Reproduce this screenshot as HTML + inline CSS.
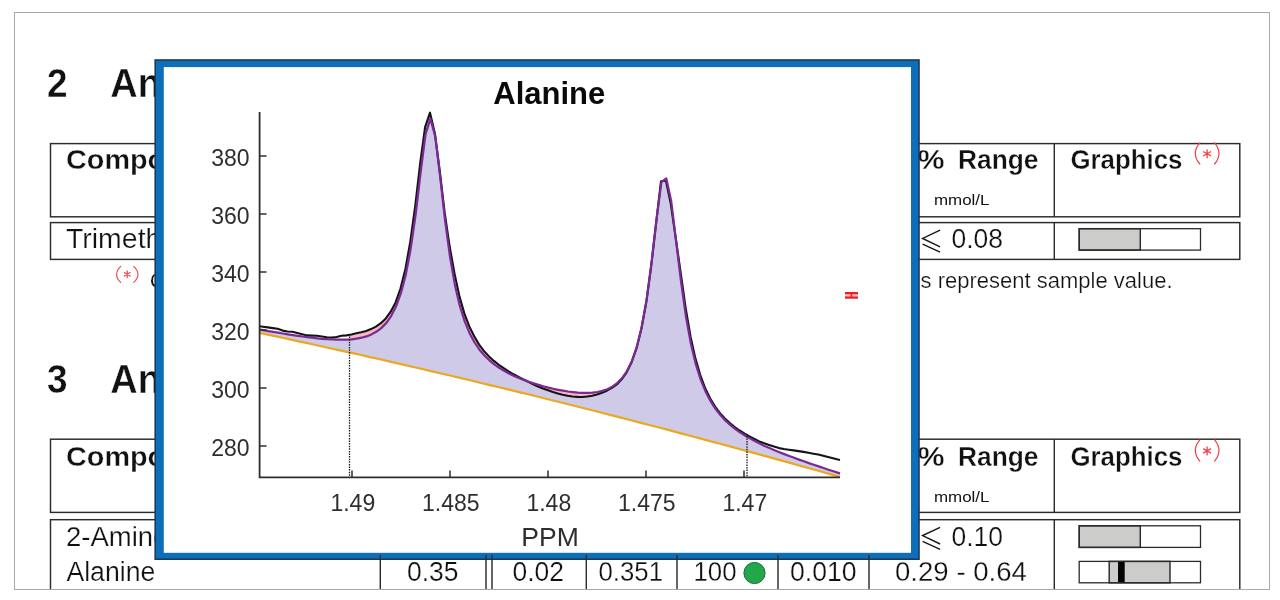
<!DOCTYPE html>
<html><head><meta charset="utf-8"><title>Alanine</title>
<style>
html,body{margin:0;padding:0;background:#fff;}
body{width:1280px;height:600px;overflow:hidden;font-family:"Liberation Sans",sans-serif;}
svg{display:block;filter:blur(0.3px);}
svg text{font-family:"Liberation Sans",sans-serif;}
</style></head><body>
<svg width="1280" height="600" viewBox="0 0 1280 600" fill="#111">
<rect width="1280" height="600" fill="#fff"/>
<g id="doc" stroke="#fff" stroke-width="0" >
<rect x="14.5" y="12.5" width="1255" height="577" fill="#fff" stroke="#a9a9a9" stroke-width="1"/>
<text transform="translate(46.90 97.40) scale(0.9300 1)" font-size="39.8" font-weight="bold" stroke="#fff" stroke-width="0.4" paint-order="fill stroke">2</text>
<text transform="translate(110.20 97.40) scale(0.9550 1)" font-size="39.8" font-weight="bold" stroke="#fff" stroke-width="0.4" paint-order="fill stroke">Analysis</text>
<text transform="translate(46.90 393.10) scale(0.9300 1)" font-size="39.8" font-weight="bold" stroke="#fff" stroke-width="0.4" paint-order="fill stroke">3</text>
<text transform="translate(110.20 393.10) scale(0.9550 1)" font-size="39.8" font-weight="bold" stroke="#fff" stroke-width="0.4" paint-order="fill stroke">Analysis</text>
<rect x="50.5" y="143.6" width="1189.3" height="73.20000000000002" fill="none" stroke="#2b2b2b" stroke-width="1.45"/>
<line x1="1054.3" y1="143.6" x2="1054.3" y2="216.8" stroke="#2b2b2b" stroke-width="1.45"/>
<rect x="50.5" y="222.6" width="1189.3" height="36.79999999999998" fill="none" stroke="#2b2b2b" stroke-width="1.45"/>
<line x1="1054.3" y1="222.6" x2="1054.3" y2="259.4" stroke="#2b2b2b" stroke-width="1.45"/>
<text transform="translate(66.00 168.80) scale(1.0142 1)" font-size="28.4" font-weight="bold" stroke="#fff" stroke-width="0.35" paint-order="fill stroke">Component</text>
<text transform="translate(958.00 168.80) scale(0.9275 1)" font-size="28.4" font-weight="bold" stroke="#fff" stroke-width="0.35" paint-order="fill stroke">Range</text>
<text transform="translate(917.50 168.80) scale(1.0692 1)" font-size="28.4" font-weight="bold" stroke="#fff" stroke-width="0.35" paint-order="fill stroke">%</text>
<text transform="translate(934.00 205.00) scale(1.1675 1)" font-size="14.5">mmol/L</text>
<text transform="translate(1070.50 168.80) scale(0.9097 1)" font-size="28.4" font-weight="bold" stroke="#fff" stroke-width="0.35" paint-order="fill stroke">Graphics</text>
<path d="M1199.8 142.8 Q1190.8 153.4 1199.8 164.0" fill="none" stroke="#f4404a" stroke-width="1.2" stroke-linecap="round"/><path d="M1214.6 142.8 Q1223.4 153.4 1214.6 164.0" fill="none" stroke="#f4404a" stroke-width="1.2" stroke-linecap="round"/><path d="M1207.1 149.8 L1207.1 157.8 M1203.6 151.8 L1210.6 155.8 M1210.6 151.8 L1203.6 155.8" fill="none" stroke="#f4404a" stroke-width="1.3" stroke-linecap="round"/>
<text transform="translate(66.00 248.40) scale(1.0350 1)" font-size="27.5" stroke="#fff" stroke-width="0.25" paint-order="fill stroke">Trimethylamine</text>
<path d="M940.1 230.2 L922.6 238.4 L940.1 246.8 M922.6 244.2 L940.1 252.2" fill="none" stroke="#1c1616" stroke-width="1.45" stroke-linejoin="miter"/>
<text transform="translate(951.50 248.40) scale(0.9800 1)" font-size="27" stroke="#fff" stroke-width="0.25" paint-order="fill stroke">0.08</text>
<rect x="1079.2" y="228.7" width="121.29999999999995" height="21.400000000000006" fill="#fff"/><rect x="1079.2" y="228.7" width="61.09999999999991" height="21.400000000000006" fill="#cccccb" stroke="#2b2b2b" stroke-width="1.45"/><rect x="1079.2" y="228.7" width="121.29999999999995" height="21.400000000000006" fill="none" stroke="#2b2b2b" stroke-width="1.3"/>
<path d="M120.7 266.4 Q112.5 274.4 120.7 282.3" fill="none" stroke="#f4404a" stroke-width="1.1" stroke-linecap="round"/><path d="M133.7 266.4 Q142.3 274.4 133.7 282.3" fill="none" stroke="#f4404a" stroke-width="1.1" stroke-linecap="round"/><path d="M127.2 270.9 L127.2 277.7 M124.3 272.6 L130.1 276.0 M130.1 272.6 L124.3 276.0" fill="none" stroke="#f4404a" stroke-width="1.2000000000000002" stroke-linecap="round"/>
<text transform="translate(149.80 287.60) scale(1.0000 1)" font-size="22.5" stroke="#fff" stroke-width="0.25" paint-order="fill stroke">Gray boxes</text>
<text transform="translate(920.60 287.60) scale(0.9781 1)" font-size="22.5" stroke="#fff" stroke-width="0.25" paint-order="fill stroke">s represent sample value.</text>
<rect x="50.5" y="439.20000000000005" width="1189.3" height="73.20000000000005" fill="none" stroke="#2b2b2b" stroke-width="1.45"/>
<line x1="1054.3" y1="439.20000000000005" x2="1054.3" y2="512.4000000000001" stroke="#2b2b2b" stroke-width="1.45"/>
<rect x="50.5" y="519.7" width="1189.3" height="80.29999999999995" fill="none" stroke="#2b2b2b" stroke-width="1.45"/>
<line x1="1054.3" y1="519.7" x2="1054.3" y2="600" stroke="#2b2b2b" stroke-width="1.45"/>
<text transform="translate(66.00 465.90) scale(1.0142 1)" font-size="28.4" font-weight="bold" stroke="#fff" stroke-width="0.35" paint-order="fill stroke">Component</text>
<text transform="translate(958.00 465.90) scale(0.9275 1)" font-size="28.4" font-weight="bold" stroke="#fff" stroke-width="0.35" paint-order="fill stroke">Range</text>
<text transform="translate(917.50 465.90) scale(1.0692 1)" font-size="28.4" font-weight="bold" stroke="#fff" stroke-width="0.35" paint-order="fill stroke">%</text>
<text transform="translate(934.00 502.10) scale(1.1675 1)" font-size="14.5">mmol/L</text>
<text transform="translate(1070.50 465.90) scale(0.9097 1)" font-size="28.4" font-weight="bold" stroke="#fff" stroke-width="0.35" paint-order="fill stroke">Graphics</text>
<path d="M1199.8 439.90000000000003 Q1190.8 450.5 1199.8 461.1" fill="none" stroke="#f4404a" stroke-width="1.2" stroke-linecap="round"/><path d="M1214.6 439.90000000000003 Q1223.4 450.5 1214.6 461.1" fill="none" stroke="#f4404a" stroke-width="1.2" stroke-linecap="round"/><path d="M1207.1 446.9 L1207.1 454.9 M1203.6 448.9 L1210.6 452.9 M1210.6 448.9 L1203.6 452.9" fill="none" stroke="#f4404a" stroke-width="1.3" stroke-linecap="round"/>
<text transform="translate(66.00 545.60) scale(1.0000 1)" font-size="27.5" stroke="#fff" stroke-width="0.25" paint-order="fill stroke">2-Aminobutyrate</text>
<text transform="translate(66.40 580.50) scale(0.9701 1)" font-size="27.5" stroke="#fff" stroke-width="0.25" paint-order="fill stroke">Alanine</text>
<path d="M940.1 527.4 L922.6 535.6 L940.1 544.0 M922.6 541.4 L940.1 549.4" fill="none" stroke="#1c1616" stroke-width="1.45" stroke-linejoin="miter"/>
<text transform="translate(951.50 545.60) scale(0.9800 1)" font-size="27" stroke="#fff" stroke-width="0.25" paint-order="fill stroke">0.10</text>
<rect x="1079.2" y="525.8" width="121.29999999999995" height="21.600000000000023" fill="#fff"/><rect x="1079.2" y="525.8" width="61.09999999999991" height="21.600000000000023" fill="#cccccb" stroke="#2b2b2b" stroke-width="1.45"/><rect x="1079.2" y="525.8" width="121.29999999999995" height="21.600000000000023" fill="none" stroke="#2b2b2b" stroke-width="1.3"/>
<rect x="1079.2" y="561.4" width="121.29999999999995" height="21.399999999999977" fill="#fff"/><rect x="1109.2" y="561.4" width="60.799999999999955" height="21.399999999999977" fill="#cccccb" stroke="#2b2b2b" stroke-width="1.45"/><rect x="1118" y="561.4" width="6.7000000000000455" height="21.399999999999977" fill="#050505"/><rect x="1079.2" y="561.4" width="121.29999999999995" height="21.399999999999977" fill="none" stroke="#2b2b2b" stroke-width="1.3"/>
</g>
<g id="popup">
<rect x="155.2" y="60.0" width="763.8" height="499.20000000000005" fill="#0d6fb9" stroke="#1d3a58" stroke-width="1.6"/>
<rect x="163.8" y="67.1" width="747.2" height="485.69999999999993" fill="#fff"/>
<g id="chart">
<path d="M259.5 329.6 L260.5 329.7 L261.5 329.9 L262.5 330.1 L262.9 330.2 L263.3 330.2 L263.5 330.3 L264.5 330.4 L265.5 330.6 L266.5 330.8 L267.5 331.0 L267.8 331.0 L268.2 331.1 L268.5 331.1 L269.5 331.3 L270.5 331.5 L271.5 331.6 L272.5 331.8 L272.7 331.8 L273.1 331.9 L273.5 332.0 L274.5 332.1 L275.5 332.3 L276.5 332.5 L277.5 332.6 L277.6 332.7 L278.0 332.7 L278.5 332.8 L279.5 333.0 L280.5 333.1 L281.5 333.3 L282.5 333.5 L282.6 333.5 L282.9 333.5 L283.5 333.6 L284.5 333.8 L285.5 333.9 L286.5 334.1 L287.5 334.3 L287.5 334.3 L287.9 334.3 L288.5 334.4 L289.5 334.6 L290.5 334.7 L291.5 334.9 L292.4 335.0 L292.5 335.0 L292.8 335.1 L293.5 335.2 L294.5 335.3 L295.5 335.5 L296.5 335.6 L297.3 335.7 L297.5 335.8 L297.7 335.8 L298.5 335.9 L299.5 336.1 L300.5 336.2 L301.5 336.3 L302.2 336.4 L302.5 336.5 L302.6 336.5 L303.5 336.6 L304.5 336.7 L305.5 336.9 L306.5 337.0 L307.1 337.1 L307.5 337.1 L307.5 337.1 L308.5 337.3 L309.5 337.4 L310.5 337.5 L311.5 337.6 L312.0 337.7 L312.4 337.7 L312.5 337.8 L313.5 337.9 L314.5 338.0 L315.5 338.1 L316.5 338.2 L317.0 338.2 L317.4 338.3 L317.5 338.3 L318.5 338.4 L319.5 338.5 L320.5 338.6 L321.5 338.7 L321.9 338.7 L322.3 338.8 L322.5 338.8 L323.5 338.9 L324.5 339.0 L325.5 339.0 L326.5 339.1 L326.8 339.1 L327.2 339.2 L327.5 339.2 L328.5 339.3 L329.5 339.3 L330.5 339.4 L331.5 339.4 L331.7 339.5 L332.1 339.5 L332.5 339.5 L333.5 339.5 L334.5 339.6 L335.5 339.6 L336.5 339.7 L336.6 339.7 L337.0 339.7 L337.5 339.7 L338.5 339.7 L339.5 339.7 L340.5 339.7 L341.5 339.7 L341.5 339.7 L341.9 339.7 L342.5 339.7 L343.5 339.7 L344.5 339.7 L345.5 339.6 L346.4 339.6 L346.5 339.6 L346.8 339.6 L347.5 339.6 L348.5 339.5 L349.5 339.4 L350.5 339.4 L351.4 339.3 L351.5 339.3 L351.8 339.3 L352.5 339.2 L353.5 339.1 L354.5 338.9 L355.5 338.8 L356.3 338.7 L356.5 338.7 L356.7 338.7 L357.5 338.5 L358.5 338.3 L359.5 338.1 L360.5 337.9 L361.2 337.8 L361.5 337.8 L361.6 337.7 L362.5 337.5 L363.5 337.2 L364.5 336.9 L365.5 336.7 L366.1 336.5 L366.5 336.4 L366.5 336.4 L367.5 336.0 L368.5 335.6 L369.5 335.2 L370.5 334.8 L371.0 334.6 L371.4 334.4 L371.5 334.4 L372.5 333.9 L373.5 333.3 L374.5 332.8 L375.5 332.2 L375.9 332.0 L376.3 331.8 L376.5 331.6 L377.5 330.9 L378.5 330.1 L379.5 329.4 L380.5 328.7 L380.9 328.4 L381.2 328.1 L381.5 327.8 L382.5 326.8 L383.5 325.8 L384.5 324.8 L385.5 323.7 L385.8 323.5 L386.2 323.1 L386.5 322.6 L387.5 321.2 L388.5 319.8 L389.5 318.4 L390.5 317.0 L390.7 316.7 L391.1 316.1 L391.5 315.3 L392.5 313.4 L393.5 311.4 L394.5 309.5 L395.5 307.5 L395.6 307.3 L396.0 306.6 L396.5 305.2 L397.5 302.5 L398.5 299.8 L399.5 297.1 L400.5 294.3 L400.5 294.3 L400.9 293.2 L401.5 291.0 L402.5 287.2 L403.5 283.4 L404.5 279.6 L405.4 276.1 L405.5 275.8 L405.8 274.6 L406.5 271.0 L407.5 265.8 L408.5 260.5 L409.5 255.2 L410.3 250.8 L410.5 250.0 L410.7 248.7 L411.5 243.4 L412.5 236.3 L413.5 229.3 L414.5 222.3 L415.3 217.0 L415.5 215.2 L415.7 214.1 L416.5 207.0 L417.5 198.6 L418.5 190.1 L419.5 181.7 L420.2 176.0 L420.5 173.3 L420.6 172.7 L421.5 165.4 L422.5 157.7 L423.5 149.9 L424.5 142.1 L425.1 137.6 L425.5 134.5 L425.5 134.4 L426.5 131.2 L427.5 128.0 L428.5 124.8 L429.5 121.6 L430.0 120.0 L430.4 118.7 L430.5 119.0 L431.5 122.7 L432.5 126.4 L433.5 130.0 L434.5 133.7 L434.9 135.2 L435.3 136.6 L435.5 138.2 L436.5 146.4 L437.5 154.6 L438.5 162.8 L439.5 171.0 L439.8 173.7 L440.2 177.0 L440.5 179.4 L441.5 188.3 L442.5 197.2 L443.5 206.0 L444.5 214.9 L444.7 217.1 L445.1 220.7 L445.5 223.3 L446.5 230.8 L447.5 238.3 L448.5 245.7 L449.5 253.2 L449.7 254.4 L450.1 257.4 L450.5 259.9 L451.5 265.6 L452.5 271.3 L453.5 277.0 L454.5 282.7 L454.6 283.1 L455.0 285.4 L455.5 287.6 L456.5 291.9 L457.5 296.1 L458.5 300.4 L459.5 304.5 L459.5 304.6 L459.9 306.2 L460.5 308.2 L461.5 311.3 L462.5 314.5 L463.5 317.6 L464.4 320.5 L464.5 320.8 L464.8 321.7 L465.5 323.4 L466.5 325.8 L467.5 328.2 L468.5 330.5 L469.3 332.5 L469.5 332.9 L469.7 333.4 L470.5 334.9 L471.5 336.7 L472.5 338.6 L473.5 340.4 L474.2 341.8 L474.5 342.3 L474.6 342.5 L475.5 343.8 L476.5 345.2 L477.5 346.7 L478.5 348.2 L479.1 349.1 L479.5 349.6 L479.5 349.7 L480.5 350.8 L481.5 352.0 L482.5 353.2 L483.5 354.4 L484.1 355.0 L484.5 355.5 L484.5 355.5 L485.5 356.5 L486.5 357.5 L487.5 358.5 L488.5 359.4 L489.0 359.9 L489.4 360.3 L489.5 360.4 L490.5 361.2 L491.5 362.0 L492.5 362.9 L493.5 363.7 L493.9 364.0 L494.3 364.3 L494.5 364.5 L495.5 365.2 L496.5 365.9 L497.5 366.6 L498.5 367.3 L498.8 367.5 L499.2 367.8 L499.5 368.0 L500.5 368.6 L501.5 369.2 L502.5 369.8 L503.5 370.4 L503.7 370.6 L504.1 370.8 L504.5 371.0 L505.5 371.6 L506.5 372.1 L507.5 372.7 L508.5 373.2 L508.6 373.3 L509.0 373.5 L509.5 373.7 L510.5 374.2 L511.5 374.7 L512.5 375.2 L513.5 375.7 L513.6 375.7 L514.0 375.9 L514.5 376.1 L515.5 376.6 L516.5 377.0 L517.5 377.4 L518.5 377.9 L518.5 377.9 L518.9 378.0 L519.5 378.3 L520.5 378.7 L521.5 379.1 L522.5 379.5 L523.4 379.8 L523.5 379.9 L523.8 380.0 L524.5 380.2 L525.5 380.6 L526.5 381.0 L527.5 381.3 L528.3 381.6 L528.5 381.7 L528.7 381.8 L529.5 382.0 L530.5 382.4 L531.5 382.7 L532.5 383.0 L533.2 383.3 L533.5 383.4 L533.6 383.4 L534.5 383.7 L535.5 384.0 L536.5 384.3 L537.5 384.6 L538.1 384.8 L538.5 384.9 L538.5 384.9 L539.5 385.2 L540.5 385.5 L541.5 385.8 L542.5 386.1 L543.0 386.2 L543.4 386.3 L543.5 386.3 L544.5 386.6 L545.5 386.9 L546.5 387.1 L547.5 387.4 L548.0 387.5 L548.4 387.6 L548.5 387.6 L549.5 387.9 L550.5 388.1 L551.5 388.3 L552.5 388.6 L552.9 388.7 L553.3 388.8 L553.5 388.8 L554.5 389.0 L555.5 389.2 L556.5 389.4 L557.5 389.7 L557.8 389.7 L558.2 389.8 L558.5 389.9 L559.5 390.0 L560.5 390.2 L561.5 390.4 L562.5 390.6 L562.7 390.6 L563.1 390.7 L563.5 390.8 L564.5 390.9 L565.5 391.1 L566.5 391.3 L567.5 391.4 L567.6 391.4 L568.0 391.5 L568.5 391.6 L569.5 391.7 L570.5 391.8 L571.5 392.0 L572.5 392.1 L572.5 392.1 L572.9 392.1 L573.5 392.2 L574.5 392.3 L575.5 392.4 L576.5 392.5 L577.5 392.6 L577.5 392.6 L577.8 392.6 L578.5 392.7 L579.5 392.7 L580.5 392.8 L581.5 392.8 L582.4 392.9 L582.5 392.9 L582.8 392.9 L583.5 392.9 L584.5 392.9 L585.5 392.9 L586.5 392.9 L587.3 392.9 L587.5 392.9 L587.7 392.9 L588.5 392.9 L589.5 392.8 L590.5 392.8 L591.5 392.7 L592.2 392.7 L592.5 392.6 L592.6 392.6 L593.5 392.5 L594.5 392.4 L595.5 392.3 L596.5 392.1 L597.1 392.1 L597.5 392.0 L597.5 392.0 L598.5 391.8 L599.5 391.6 L600.5 391.3 L601.5 391.1 L602.0 391.0 L602.4 390.9 L602.5 390.9 L603.5 390.5 L604.5 390.2 L605.5 389.8 L606.5 389.5 L606.9 389.3 L607.3 389.2 L607.5 389.1 L608.5 388.6 L609.5 388.1 L610.5 387.6 L611.5 387.1 L611.9 386.9 L612.3 386.7 L612.5 386.5 L613.5 385.8 L614.5 385.1 L615.5 384.3 L616.5 383.6 L616.8 383.4 L617.2 383.1 L617.5 382.8 L618.5 381.8 L619.5 380.7 L620.5 379.7 L621.5 378.7 L621.7 378.5 L622.1 378.1 L622.5 377.5 L623.5 376.0 L624.5 374.6 L625.5 373.2 L626.5 371.7 L626.6 371.6 L627.0 371.0 L627.5 370.0 L628.5 367.9 L629.5 365.9 L630.5 363.9 L631.5 361.9 L631.5 361.8 L631.9 361.0 L632.5 359.3 L633.5 356.5 L634.5 353.6 L635.5 350.7 L636.4 348.0 L636.5 347.8 L636.8 346.9 L637.5 344.2 L638.5 340.1 L639.5 336.1 L640.5 332.0 L641.3 328.6 L641.5 327.9 L641.7 327.0 L642.5 322.7 L643.5 317.0 L644.5 311.4 L645.5 305.7 L646.3 301.4 L646.5 300.0 L646.7 299.1 L647.5 292.8 L648.5 285.3 L649.5 277.9 L650.5 270.4 L651.2 265.3 L651.5 262.9 L651.6 262.3 L652.5 254.3 L653.5 245.6 L654.5 236.9 L655.5 228.3 L656.1 223.2 L656.5 219.7 L656.5 219.6 L657.5 212.0 L658.5 204.4 L659.5 196.7 L660.5 189.1 L661.0 185.3 L661.4 182.2 L661.5 182.1 L662.5 181.4 L663.5 180.6 L664.5 179.9 L665.5 179.1 L665.9 178.8 L666.3 178.5 L666.5 179.3 L667.5 183.9 L668.5 188.5 L669.5 193.2 L670.5 197.8 L670.8 199.3 L671.2 201.1 L671.5 203.3 L672.5 211.4 L673.5 219.6 L674.5 227.7 L675.5 235.9 L675.8 237.9 L676.1 241.1 L676.5 244.1 L677.5 252.4 L678.5 260.8 L679.5 269.1 L680.5 277.5 L680.7 278.9 L681.1 282.2 L681.5 285.3 L682.5 292.3 L683.5 299.3 L684.5 306.4 L685.5 313.4 L685.6 314.0 L686.0 316.8 L686.5 319.7 L687.5 325.1 L688.5 330.6 L689.5 336.1 L690.5 341.5 L690.5 341.6 L690.9 343.7 L691.5 346.2 L692.5 350.4 L693.5 354.5 L694.5 358.7 L695.4 362.5 L695.5 362.9 L695.8 364.2 L696.5 366.3 L697.5 369.5 L698.5 372.7 L699.5 375.8 L700.3 378.4 L700.5 379.0 L700.7 379.7 L701.5 381.6 L702.5 384.0 L703.5 386.5 L704.5 388.9 L705.2 390.7 L705.5 391.4 L705.6 391.7 L706.5 393.4 L707.5 395.3 L708.5 397.2 L709.5 399.2 L710.2 400.4 L710.5 401.1 L710.6 401.2 L711.5 402.7 L712.5 404.2 L713.5 405.8 L714.5 407.3 L715.1 408.2 L715.5 408.8 L715.5 408.9 L716.5 410.2 L717.5 411.4 L718.5 412.7 L719.5 414.0 L720.0 414.6 L720.4 415.1 L720.5 415.2 L721.5 416.3 L722.5 417.4 L723.5 418.5 L724.5 419.5 L724.9 420.0 L725.3 420.4 L725.5 420.6 L726.5 421.5 L727.5 422.4 L728.5 423.4 L729.5 424.3 L729.8 424.6 L730.2 424.9 L730.5 425.2 L731.5 426.0 L732.5 426.8 L733.5 427.6 L734.5 428.4 L734.7 428.6 L735.1 428.9 L735.5 429.2 L736.5 429.9 L737.5 430.6 L738.5 431.3 L739.5 432.0 L739.6 432.1 L740.0 432.4 L740.5 432.7 L741.5 433.3 L742.5 434.0 L743.5 434.6 L744.5 435.3 L744.6 435.3 L745.0 435.5 L745.5 435.9 L746.5 436.4 L747.5 437.0 L748.5 437.6 L749.5 438.2 L749.5 438.2 L749.9 438.4 L750.5 438.8 L751.5 439.3 L752.5 439.8 L753.5 440.4 L754.4 440.9 L754.5 440.9 L754.8 441.1 L755.5 441.4 L756.5 441.9 L757.5 442.4 L758.5 442.9 L759.3 443.3 L759.5 443.4 L759.7 443.5 L760.5 443.9 L761.5 444.4 L762.5 444.9 L763.5 445.3 L764.2 445.7 L764.5 445.8 L764.6 445.9 L765.5 446.3 L766.5 446.7 L767.5 447.2 L768.5 447.6 L769.1 447.9 L769.5 448.0 L769.5 448.1 L770.5 448.5 L771.5 448.9 L772.5 449.3 L773.5 449.8 L774.0 450.0 L774.5 450.2 L774.5 450.2 L775.5 450.6 L776.5 451.0 L777.5 451.4 L778.5 451.8 L779.0 452.0 L779.4 452.2 L779.5 452.2 L780.5 452.6 L781.5 453.0 L782.5 453.4 L783.5 453.8 L783.9 454.0 L784.3 454.1 L784.5 454.2 L785.5 454.6 L786.5 455.0 L787.5 455.3 L788.5 455.7 L788.8 455.8 L789.2 456.0 L789.5 456.1 L790.5 456.5 L791.5 456.8 L792.5 457.2 L793.5 457.6 L793.7 457.7 L794.1 457.8 L794.5 458.0 L795.5 458.3 L796.5 458.7 L797.5 459.0 L798.5 459.4 L798.6 459.5 L799.0 459.6 L799.5 459.8 L800.5 460.1 L801.5 460.5 L802.5 460.8 L803.5 461.2 L803.5 461.2 L803.9 461.3 L804.5 461.5 L805.5 461.9 L806.5 462.2 L807.5 462.6 L808.5 462.9 L808.5 462.9 L808.9 463.1 L809.5 463.3 L810.5 463.6 L811.5 464.0 L812.5 464.3 L813.4 464.6 L813.5 464.6 L813.8 464.7 L814.5 465.0 L815.5 465.3 L816.5 465.7 L817.5 466.0 L818.3 466.3 L818.5 466.3 L818.7 466.4 L819.5 466.7 L820.5 467.0 L821.5 467.3 L822.5 467.7 L823.2 467.9 L823.5 468.0 L823.6 468.0 L824.5 468.3 L825.5 468.7 L826.5 469.0 L827.5 469.3 L828.1 469.5 L828.5 469.7 L828.5 469.7 L829.5 470.0 L830.5 470.3 L831.5 470.6 L832.5 471.0 L833.0 471.1 L833.4 471.3 L833.5 471.3 L834.5 471.6 L835.5 471.9 L836.5 472.3 L837.5 472.6 L837.9 472.7 L838.3 472.9 L838.5 472.9 L839.5 473.2 L840.0 473.4 L840.0 477.0 L839.5 476.8 L838.5 476.5 L838.3 476.5 L837.9 476.4 L837.5 476.3 L836.5 476.0 L835.5 475.7 L834.5 475.4 L833.5 475.1 L833.4 475.1 L833.0 475.0 L832.5 474.8 L831.5 474.6 L830.5 474.3 L829.5 474.0 L828.5 473.7 L828.5 473.7 L828.1 473.6 L827.5 473.4 L826.5 473.1 L825.5 472.9 L824.5 472.6 L823.6 472.3 L823.5 472.3 L823.2 472.2 L822.5 472.0 L821.5 471.7 L820.5 471.5 L819.5 471.2 L818.7 470.9 L818.5 470.9 L818.3 470.8 L817.5 470.6 L816.5 470.3 L815.5 470.0 L814.5 469.8 L813.8 469.6 L813.5 469.5 L813.4 469.4 L812.5 469.2 L811.5 468.9 L810.5 468.6 L809.5 468.4 L808.9 468.2 L808.5 468.1 L808.5 468.1 L807.5 467.8 L806.5 467.5 L805.5 467.2 L804.5 467.0 L803.9 466.8 L803.5 466.7 L803.5 466.7 L802.5 466.4 L801.5 466.1 L800.5 465.8 L799.5 465.6 L799.0 465.4 L798.6 465.3 L798.5 465.3 L797.5 465.0 L796.5 464.7 L795.5 464.4 L794.5 464.2 L794.1 464.1 L793.7 463.9 L793.5 463.9 L792.5 463.6 L791.5 463.3 L790.5 463.1 L789.5 462.8 L789.2 462.7 L788.8 462.6 L788.5 462.5 L787.5 462.2 L786.5 461.9 L785.5 461.7 L784.5 461.4 L784.3 461.3 L783.9 461.2 L783.5 461.1 L782.5 460.8 L781.5 460.6 L780.5 460.3 L779.5 460.0 L779.4 460.0 L779.0 459.9 L778.5 459.7 L777.5 459.4 L776.5 459.2 L775.5 458.9 L774.5 458.6 L774.5 458.6 L774.0 458.5 L773.5 458.3 L772.5 458.1 L771.5 457.8 L770.5 457.5 L769.5 457.2 L769.5 457.2 L769.1 457.1 L768.5 457.0 L767.5 456.7 L766.5 456.4 L765.5 456.1 L764.6 455.9 L764.5 455.9 L764.2 455.8 L763.5 455.6 L762.5 455.3 L761.5 455.0 L760.5 454.8 L759.7 454.5 L759.5 454.5 L759.3 454.4 L758.5 454.2 L757.5 453.9 L756.5 453.7 L755.5 453.4 L754.8 453.2 L754.5 453.1 L754.4 453.1 L753.5 452.8 L752.5 452.6 L751.5 452.3 L750.5 452.0 L749.9 451.9 L749.5 451.8 L749.5 451.7 L748.5 451.5 L747.5 451.2 L746.5 450.9 L745.5 450.7 L745.0 450.5 L744.6 450.4 L744.5 450.4 L743.5 450.1 L742.5 449.8 L741.5 449.6 L740.5 449.3 L740.0 449.2 L739.6 449.1 L739.5 449.0 L738.5 448.8 L737.5 448.5 L736.5 448.2 L735.5 447.9 L735.1 447.8 L734.7 447.7 L734.5 447.7 L733.5 447.4 L732.5 447.1 L731.5 446.9 L730.5 446.6 L730.2 446.5 L729.8 446.4 L729.5 446.3 L728.5 446.0 L727.5 445.8 L726.5 445.5 L725.5 445.2 L725.3 445.2 L724.9 445.1 L724.5 445.0 L723.5 444.7 L722.5 444.4 L721.5 444.2 L720.5 443.9 L720.4 443.9 L720.0 443.7 L719.5 443.6 L718.5 443.3 L717.5 443.1 L716.5 442.8 L715.5 442.5 L715.5 442.5 L715.1 442.4 L714.5 442.3 L713.5 442.0 L712.5 441.7 L711.5 441.5 L710.6 441.2 L710.5 441.2 L710.2 441.1 L709.5 440.9 L708.5 440.7 L707.5 440.4 L706.5 440.1 L705.6 439.9 L705.5 439.9 L705.2 439.8 L704.5 439.6 L703.5 439.3 L702.5 439.1 L701.5 438.8 L700.7 438.6 L700.5 438.5 L700.3 438.5 L699.5 438.3 L698.5 438.0 L697.5 437.7 L696.5 437.5 L695.8 437.3 L695.5 437.2 L695.4 437.2 L694.5 436.9 L693.5 436.7 L692.5 436.4 L691.5 436.1 L690.9 436.0 L690.5 435.9 L690.5 435.9 L689.5 435.6 L688.5 435.3 L687.5 435.1 L686.5 434.8 L686.0 434.7 L685.6 434.5 L685.5 434.5 L684.5 434.3 L683.5 434.0 L682.5 433.7 L681.5 433.5 L681.1 433.4 L680.7 433.2 L680.5 433.2 L679.5 432.9 L678.5 432.7 L677.5 432.4 L676.5 432.1 L676.1 432.1 L675.8 431.9 L675.5 431.9 L674.5 431.6 L673.5 431.4 L672.5 431.1 L671.5 430.8 L671.2 430.8 L670.8 430.7 L670.5 430.6 L669.5 430.3 L668.5 430.0 L667.5 429.8 L666.5 429.5 L666.3 429.5 L665.9 429.4 L665.5 429.3 L664.5 429.0 L663.5 428.7 L662.5 428.5 L661.5 428.2 L661.4 428.2 L661.0 428.1 L660.5 427.9 L659.5 427.7 L658.5 427.4 L657.5 427.2 L656.5 426.9 L656.5 426.9 L656.1 426.8 L655.5 426.6 L654.5 426.4 L653.5 426.1 L652.5 425.8 L651.6 425.6 L651.5 425.6 L651.2 425.5 L650.5 425.3 L649.5 425.1 L648.5 424.8 L647.5 424.5 L646.7 424.3 L646.5 424.3 L646.3 424.2 L645.5 424.0 L644.5 423.8 L643.5 423.5 L642.5 423.2 L641.7 423.0 L641.5 423.0 L641.3 422.9 L640.5 422.7 L639.5 422.5 L638.5 422.2 L637.5 421.9 L636.8 421.8 L636.5 421.7 L636.4 421.7 L635.5 421.4 L634.5 421.2 L633.5 420.9 L632.5 420.7 L631.9 420.5 L631.5 420.4 L631.5 420.4 L630.5 420.1 L629.5 419.9 L628.5 419.6 L627.5 419.4 L627.0 419.2 L626.6 419.1 L626.5 419.1 L625.5 418.8 L624.5 418.6 L623.5 418.3 L622.5 418.1 L622.1 418.0 L621.7 417.9 L621.5 417.8 L620.5 417.6 L619.5 417.3 L618.5 417.0 L617.5 416.8 L617.2 416.7 L616.8 416.6 L616.5 416.5 L615.5 416.3 L614.5 416.0 L613.5 415.8 L612.5 415.5 L612.3 415.4 L611.9 415.3 L611.5 415.3 L610.5 415.0 L609.5 414.7 L608.5 414.5 L607.5 414.2 L607.3 414.2 L606.9 414.1 L606.5 414.0 L605.5 413.7 L604.5 413.5 L603.5 413.2 L602.5 413.0 L602.4 412.9 L602.0 412.8 L601.5 412.7 L600.5 412.4 L599.5 412.2 L598.5 411.9 L597.5 411.7 L597.5 411.7 L597.1 411.6 L596.5 411.4 L595.5 411.2 L594.5 410.9 L593.5 410.7 L592.6 410.4 L592.5 410.4 L592.2 410.3 L591.5 410.2 L590.5 409.9 L589.5 409.7 L588.5 409.4 L587.7 409.2 L587.5 409.1 L587.3 409.1 L586.5 408.9 L585.5 408.6 L584.5 408.4 L583.5 408.1 L582.8 407.9 L582.5 407.9 L582.4 407.8 L581.5 407.6 L580.5 407.4 L579.5 407.1 L578.5 406.9 L577.8 406.7 L577.5 406.6 L577.5 406.6 L576.5 406.4 L575.5 406.1 L574.5 405.9 L573.5 405.6 L572.9 405.5 L572.5 405.4 L572.5 405.4 L571.5 405.1 L570.5 404.9 L569.5 404.6 L568.5 404.4 L568.0 404.2 L567.6 404.1 L567.5 404.1 L566.5 403.9 L565.5 403.6 L564.5 403.4 L563.5 403.1 L563.1 403.0 L562.7 402.9 L562.5 402.9 L561.5 402.6 L560.5 402.4 L559.5 402.1 L558.5 401.9 L558.2 401.8 L557.8 401.7 L557.5 401.6 L556.5 401.4 L555.5 401.1 L554.5 400.9 L553.5 400.6 L553.3 400.6 L552.9 400.5 L552.5 400.4 L551.5 400.1 L550.5 399.9 L549.5 399.6 L548.5 399.4 L548.4 399.3 L548.0 399.2 L547.5 399.1 L546.5 398.9 L545.5 398.6 L544.5 398.4 L543.5 398.1 L543.4 398.1 L543.0 398.0 L542.5 397.9 L541.5 397.6 L540.5 397.4 L539.5 397.1 L538.5 396.9 L538.5 396.9 L538.1 396.8 L537.5 396.7 L536.5 396.4 L535.5 396.2 L534.5 395.9 L533.6 395.7 L533.5 395.7 L533.2 395.6 L532.5 395.4 L531.5 395.2 L530.5 394.9 L529.5 394.7 L528.7 394.5 L528.5 394.4 L528.3 394.4 L527.5 394.2 L526.5 393.9 L525.5 393.7 L524.5 393.5 L523.8 393.3 L523.5 393.2 L523.4 393.2 L522.5 393.0 L521.5 392.7 L520.5 392.5 L519.5 392.2 L518.9 392.1 L518.5 392.0 L518.5 392.0 L517.5 391.7 L516.5 391.5 L515.5 391.3 L514.5 391.0 L514.0 390.9 L513.6 390.8 L513.5 390.8 L512.5 390.5 L511.5 390.3 L510.5 390.0 L509.5 389.8 L509.0 389.7 L508.6 389.6 L508.5 389.6 L507.5 389.3 L506.5 389.1 L505.5 388.8 L504.5 388.6 L504.1 388.5 L503.7 388.4 L503.5 388.3 L502.5 388.1 L501.5 387.9 L500.5 387.6 L499.5 387.4 L499.2 387.3 L498.8 387.2 L498.5 387.1 L497.5 386.9 L496.5 386.6 L495.5 386.4 L494.5 386.2 L494.3 386.1 L493.9 386.0 L493.5 385.9 L492.5 385.7 L491.5 385.4 L490.5 385.2 L489.5 385.0 L489.4 384.9 L489.0 384.8 L488.5 384.7 L487.5 384.5 L486.5 384.2 L485.5 384.0 L484.5 383.8 L484.5 383.7 L484.1 383.7 L483.5 383.5 L482.5 383.3 L481.5 383.0 L480.5 382.8 L479.5 382.6 L479.5 382.6 L479.1 382.5 L478.5 382.3 L477.5 382.1 L476.5 381.8 L475.5 381.6 L474.6 381.4 L474.5 381.4 L474.2 381.3 L473.5 381.1 L472.5 380.9 L471.5 380.6 L470.5 380.4 L469.7 380.2 L469.5 380.2 L469.3 380.1 L468.5 379.9 L467.5 379.7 L466.5 379.5 L465.5 379.2 L464.8 379.1 L464.5 379.0 L464.4 379.0 L463.5 378.7 L462.5 378.5 L461.5 378.3 L460.5 378.0 L459.9 377.9 L459.5 377.8 L459.5 377.8 L458.5 377.6 L457.5 377.3 L456.5 377.1 L455.5 376.8 L455.0 376.7 L454.6 376.6 L454.5 376.6 L453.5 376.4 L452.5 376.1 L451.5 375.9 L450.5 375.7 L450.1 375.6 L449.7 375.5 L449.5 375.4 L448.5 375.2 L447.5 375.0 L446.5 374.7 L445.5 374.5 L445.1 374.4 L444.7 374.3 L444.5 374.3 L443.5 374.0 L442.5 373.8 L441.5 373.5 L440.5 373.3 L440.2 373.3 L439.8 373.2 L439.5 373.1 L438.5 372.8 L437.5 372.6 L436.5 372.4 L435.5 372.1 L435.3 372.1 L434.9 372.0 L434.5 371.9 L433.5 371.7 L432.5 371.4 L431.5 371.2 L430.5 371.0 L430.4 371.0 L430.0 370.9 L429.5 370.7 L428.5 370.5 L427.5 370.3 L426.5 370.0 L425.5 369.8 L425.5 369.8 L425.1 369.7 L424.5 369.6 L423.5 369.3 L422.5 369.1 L421.5 368.9 L420.6 368.7 L420.5 368.6 L420.2 368.6 L419.5 368.4 L418.5 368.2 L417.5 368.0 L416.5 367.7 L415.7 367.5 L415.5 367.5 L415.3 367.4 L414.5 367.3 L413.5 367.0 L412.5 366.8 L411.5 366.6 L410.7 366.4 L410.5 366.3 L410.3 366.3 L409.5 366.1 L408.5 365.9 L407.5 365.6 L406.5 365.4 L405.8 365.3 L405.5 365.2 L405.4 365.2 L404.5 364.9 L403.5 364.7 L402.5 364.5 L401.5 364.3 L400.9 364.1 L400.5 364.0 L400.5 364.0 L399.5 363.8 L398.5 363.6 L397.5 363.3 L396.5 363.1 L396.0 363.0 L395.6 362.9 L395.5 362.9 L394.5 362.7 L393.5 362.4 L392.5 362.2 L391.5 362.0 L391.1 361.9 L390.7 361.8 L390.5 361.7 L389.5 361.5 L388.5 361.3 L387.5 361.1 L386.5 360.8 L386.2 360.8 L385.8 360.7 L385.5 360.6 L384.5 360.4 L383.5 360.1 L382.5 359.9 L381.5 359.7 L381.2 359.6 L380.9 359.5 L380.5 359.5 L379.5 359.2 L378.5 359.0 L377.5 358.8 L376.5 358.6 L376.3 358.5 L375.9 358.4 L375.5 358.3 L374.5 358.1 L373.5 357.9 L372.5 357.6 L371.5 357.4 L371.4 357.4 L371.0 357.3 L370.5 357.2 L369.5 357.0 L368.5 356.7 L367.5 356.5 L366.5 356.3 L366.5 356.3 L366.1 356.2 L365.5 356.1 L364.5 355.8 L363.5 355.6 L362.5 355.4 L361.6 355.2 L361.5 355.2 L361.2 355.1 L360.5 354.9 L359.5 354.7 L358.5 354.5 L357.5 354.3 L356.7 354.1 L356.5 354.0 L356.3 354.0 L355.5 353.8 L354.5 353.6 L353.5 353.4 L352.5 353.2 L351.8 353.0 L351.5 352.9 L351.4 352.9 L350.5 352.7 L349.5 352.5 L348.5 352.3 L347.5 352.0 L346.8 351.9 L346.5 351.8 L346.4 351.8 L345.5 351.6 L344.5 351.4 L343.5 351.1 L342.5 350.9 L341.9 350.8 L341.5 350.7 L341.5 350.7 L340.5 350.5 L339.5 350.3 L338.5 350.0 L337.5 349.8 L337.0 349.7 L336.6 349.6 L336.5 349.6 L335.5 349.4 L334.5 349.1 L333.5 348.9 L332.5 348.7 L332.1 348.6 L331.7 348.5 L331.5 348.5 L330.5 348.3 L329.5 348.0 L328.5 347.8 L327.5 347.6 L327.2 347.5 L326.8 347.4 L326.5 347.4 L325.5 347.2 L324.5 346.9 L323.5 346.7 L322.5 346.5 L322.3 346.4 L321.9 346.4 L321.5 346.3 L320.5 346.1 L319.5 345.8 L318.5 345.6 L317.5 345.4 L317.4 345.4 L317.0 345.3 L316.5 345.2 L315.5 345.0 L314.5 344.7 L313.5 344.5 L312.5 344.3 L312.4 344.3 L312.0 344.2 L311.5 344.1 L310.5 343.9 L309.5 343.7 L308.5 343.4 L307.5 343.2 L307.5 343.2 L307.1 343.1 L306.5 343.0 L305.5 342.8 L304.5 342.6 L303.5 342.3 L302.6 342.2 L302.5 342.1 L302.2 342.1 L301.5 341.9 L300.5 341.7 L299.5 341.5 L298.5 341.3 L297.7 341.1 L297.5 341.0 L297.3 341.0 L296.5 340.8 L295.5 340.6 L294.5 340.4 L293.5 340.2 L292.8 340.0 L292.5 340.0 L292.4 339.9 L291.5 339.7 L290.5 339.5 L289.5 339.3 L288.5 339.1 L287.9 339.0 L287.5 338.9 L287.5 338.9 L286.5 338.7 L285.5 338.4 L284.5 338.2 L283.5 338.0 L282.9 337.9 L282.6 337.8 L282.5 337.8 L281.5 337.6 L280.5 337.4 L279.5 337.2 L278.5 336.9 L278.0 336.8 L277.6 336.8 L277.5 336.7 L276.5 336.5 L275.5 336.3 L274.5 336.1 L273.5 335.9 L273.1 335.8 L272.7 335.7 L272.5 335.7 L271.5 335.4 L270.5 335.2 L269.5 335.0 L268.5 334.8 L268.2 334.7 L267.8 334.7 L267.5 334.6 L266.5 334.4 L265.5 334.2 L264.5 334.0 L263.5 333.7 L263.3 333.7 L262.9 333.6 L262.5 333.5 L261.5 333.3 L260.5 333.1 L259.5 332.9 Z" fill="#cecae7"/>
<path d="M349.5 334.8 L350.5 334.7 L351.4 334.5 L351.5 334.5 L351.8 334.4 L352.5 334.2 L353.5 334.0 L354.5 333.7 L355.5 333.5 L356.3 333.3 L356.5 333.3 L356.7 333.2 L357.5 333.1 L358.5 332.8 L359.5 332.6 L360.5 332.4 L361.2 332.3 L361.5 332.2 L361.6 332.2 L362.5 331.9 L363.5 331.7 L364.5 331.4 L365.5 331.1 L366.1 330.9 L366.5 330.8 L366.5 330.8 L367.5 330.4 L368.5 330.1 L369.5 329.7 L370.5 329.3 L371.0 329.1 L371.4 328.9 L371.5 328.9 L372.5 328.4 L373.5 327.9 L374.5 327.4 L375.5 326.9 L375.9 326.6 L376.3 326.3 L376.5 326.2 L377.5 325.5 L378.5 324.8 L379.5 324.1 L380.5 323.4 L380.9 323.2 L381.2 322.8 L381.5 322.5 L382.5 321.6 L383.5 320.6 L384.5 319.7 L385.5 318.7 L385.8 318.4 L386.2 317.9 L386.5 317.4 L387.5 316.1 L388.5 314.7 L389.5 313.3 L390.5 311.9 L390.7 311.7 L391.1 310.9 L391.5 310.1 L392.5 308.2 L393.5 306.4 L394.5 304.5 L395.5 302.6 L395.6 302.4 L396.0 301.3 L396.5 299.9 L397.5 297.0 L398.5 294.2 L399.5 291.4 L400.5 288.6 L400.5 288.5 L400.9 286.9 L401.5 284.6 L402.5 280.6 L403.5 276.6 L404.5 272.7 L405.4 269.0 L405.5 268.6 L405.8 266.8 L406.5 263.0 L407.5 257.4 L408.5 251.9 L409.5 246.3 L410.3 241.6 L410.5 240.4 L410.7 238.7 L411.5 233.0 L412.5 225.6 L413.5 218.3 L414.5 210.9 L415.3 205.3 L415.5 203.2 L415.7 201.9 L416.5 194.6 L417.5 186.1 L418.5 177.5 L419.5 168.9 L420.2 163.2 L420.5 160.8 L420.6 160.3 L421.5 153.4 L422.5 146.1 L423.5 138.7 L424.5 131.4 L425.1 127.1 L425.5 125.9 L425.5 125.9 L426.5 122.9 L427.5 120.0 L428.5 117.1 L429.5 114.1 L430.0 112.7 L430.4 114.4 L430.5 114.8 L431.5 119.0 L432.5 123.2 L433.5 127.4 L434.5 131.7 L434.9 133.4 L435.3 136.5 L435.5 137.9 L436.5 145.7 L437.5 153.5 L438.5 161.2 L439.5 169.0 L439.8 171.5 L440.2 174.9 L440.5 177.2 L441.5 185.6 L442.5 194.0 L443.5 202.4 L444.5 210.8 L444.7 212.9 L445.1 215.6 L445.5 218.1 L446.5 225.0 L447.5 231.9 L448.5 238.8 L449.5 245.7 L449.7 246.8 L450.1 249.0 L450.5 251.4 L451.5 257.0 L452.5 262.5 L453.5 268.0 L454.5 273.5 L454.6 273.9 L455.0 275.7 L455.5 278.2 L456.5 282.8 L457.5 287.4 L458.5 292.0 L459.5 296.6 L459.5 296.6 L459.9 297.9 L460.5 300.1 L461.5 303.5 L462.5 307.0 L463.5 310.5 L464.4 313.6 L464.5 313.8 L464.8 314.6 L465.5 316.5 L466.5 319.1 L467.5 321.7 L468.5 324.3 L469.3 326.4 L469.5 326.8 L469.7 327.2 L470.5 328.8 L471.5 330.8 L472.5 332.8 L473.5 334.9 L474.2 336.3 L474.5 336.8 L474.6 337.0 L475.5 338.5 L476.5 340.1 L477.5 341.8 L478.5 343.5 L479.1 344.6 L479.5 345.0 L479.5 345.1 L480.5 346.4 L481.5 347.7 L482.5 349.0 L483.5 350.4 L484.1 351.1 L484.5 351.6 L484.5 351.6 L485.5 352.7 L486.5 353.8 L487.5 354.8 L488.5 355.9 L489.0 356.4 L489.4 356.8 L489.5 356.9 L490.5 357.8 L491.5 358.7 L492.5 359.7 L493.5 360.6 L493.9 360.9 L494.3 361.2 L494.5 361.4 L495.5 362.2 L496.5 363.0 L497.5 363.8 L498.5 364.6 L498.8 364.8 L499.2 365.1 L499.5 365.3 L500.5 366.0 L501.5 366.7 L502.5 367.3 L503.5 368.0 L503.7 368.2 L504.1 368.4 L504.5 368.7 L505.5 369.3 L506.5 370.0 L507.5 370.6 L508.5 371.3 L508.6 371.4 L509.0 371.6 L509.5 371.9 L510.5 372.5 L511.5 373.1 L512.5 373.7 L513.5 374.2 L513.6 374.3 L514.0 374.5 L514.5 374.8 L515.5 375.3 L516.5 375.9 L517.5 376.4 L518.5 376.9 L518.5 376.9 L518.9 377.1 L519.5 377.4 L520.5 377.9 L521.5 378.5 L522.5 379.0 L523.4 379.4 L523.5 379.5 L523.8 379.6 L524.5 379.9 L525.5 380.4 L526.5 380.9 L527.5 381.4 L528.3 381.8 L528.5 381.9 L528.7 382.0 L529.5 382.4 L530.5 382.9 L531.5 383.4 L532.5 383.9 L533.2 384.2 L533.5 384.3 L533.6 384.4 L534.5 384.8 L535.5 385.3 L536.5 385.7 L537.5 386.2 L538.1 386.5 L538.5 386.7 L538.5 386.7 L539.5 387.1 L540.5 387.5 L541.5 387.9 L542.5 388.3 L543.0 388.5 L543.4 388.7 L543.5 388.7 L544.5 389.1 L545.5 389.4 L546.5 389.8 L547.5 390.2 L548.0 390.3 L548.4 390.5 L548.5 390.5 L549.5 390.9 L550.5 391.2 L551.5 391.6 L552.5 391.9 L552.9 392.0 L553.3 392.2 L553.5 392.2 L554.5 392.5 L555.5 392.8 L556.5 393.1 L557.5 393.4 L557.8 393.5 L558.2 393.6 L558.5 393.6 L559.5 393.9 L560.5 394.1 L561.5 394.4 L562.5 394.6 L562.7 394.7 L563.1 394.7 L563.5 394.8 L564.5 395.0 L565.5 395.3 L566.5 395.5 L567.5 395.7 L567.6 395.7 L568.0 395.8 L568.5 395.9 L569.5 396.0 L570.5 396.2 L571.5 396.3 L572.5 396.5 L572.5 396.5 L572.9 396.5 L573.5 396.5 L574.5 396.6 L575.5 396.7 L576.5 396.8 L577.5 396.9 L577.5 396.9 L577.8 396.9 L578.5 396.9 L579.5 396.9 L580.5 397.0 L581.5 397.0 L582.4 397.0 L582.5 397.0 L582.8 397.0 L583.5 396.9 L584.5 396.8 L585.5 396.7 L586.5 396.6 L587.3 396.5 L587.5 396.4 L587.7 396.4 L588.5 396.3 L589.5 396.1 L590.5 395.9 L591.5 395.8 L592.2 395.7 L592.5 395.6 L592.6 395.5 L593.5 395.3 L594.5 395.1 L595.5 394.8 L596.5 394.5 L597.1 394.4 L597.5 394.2 L597.5 394.2 L598.5 393.9 L599.5 393.6 L600.5 393.3 L601.5 392.9 L602.0 392.8 L602.4 392.6 L602.5 392.6 L603.5 392.2 L604.5 391.7 L605.5 391.3 L606.5 390.9 L606.9 390.7 L607.3 390.5 L607.5 390.4 L608.5 389.9 L609.5 389.3 L610.5 388.7 L611.5 388.1 L611.9 387.9 L612.3 387.7 L612.5 387.5 L613.5 386.7 L614.5 386.0 L615.5 385.3 L616.5 384.5 L616.8 384.4 L617.2 383.9 L617.5 383.6 L618.5 382.6 L619.5 381.6 L620.5 380.5 L621.5 379.5 L621.7 379.3 L622.1 378.8 L622.5 378.2 L623.5 376.8 L624.5 375.3 L625.5 373.9 L626.5 372.5 L626.6 372.3 L627.0 371.5 L627.5 370.5 L628.5 368.5 L629.5 366.6 L630.5 364.6 L631.5 362.6 L631.5 362.5 L631.9 361.4 L632.5 359.8 L633.5 357.0 L634.5 354.2 L635.5 351.4 L636.4 348.7 L636.5 348.5 L636.8 347.2 L637.5 344.5 L638.5 340.5 L639.5 336.6 L640.5 332.6 L641.3 329.3 L641.5 328.4 L641.7 327.1 L642.5 322.9 L643.5 317.4 L644.5 311.8 L645.5 306.3 L646.3 302.1 L646.5 300.3 L646.7 299.2 L647.5 293.0 L648.5 285.6 L649.5 278.2 L650.5 270.8 L651.2 265.8 L651.5 263.0 L651.6 262.4 L652.5 254.3 L653.5 245.6 L654.5 237.0 L655.5 228.3 L656.1 223.1 L656.5 219.7 L656.5 219.6 L657.5 211.1 L658.5 202.6 L659.5 194.0 L660.5 185.5 L661.0 181.2 L661.4 181.2 L661.5 181.1 L662.5 181.0 L663.5 180.9 L664.5 180.8 L665.5 180.7 L665.9 180.6 L666.3 182.5 L666.5 183.3 L667.5 188.1 L668.5 192.8 L669.5 197.5 L670.5 202.3 L670.8 203.8 L671.2 206.7 L671.5 208.5 L672.5 215.6 L673.5 222.7 L674.5 229.7 L675.5 236.8 L675.8 238.6 L676.1 241.4 L676.5 243.8 L677.5 250.8 L678.5 257.8 L679.5 264.8 L680.5 271.8 L680.7 273.0 L681.1 275.8 L681.5 278.9 L682.5 285.9 L683.5 292.9 L684.5 300.0 L685.5 307.0 L685.6 307.6 L686.0 309.9 L686.5 313.0 L687.5 318.9 L688.5 324.7 L689.5 330.6 L690.5 336.5 L690.5 336.5 L690.9 338.3 L691.5 341.0 L692.5 345.4 L693.5 349.9 L694.5 354.4 L695.4 358.4 L695.5 358.7 L695.8 359.8 L696.5 362.1 L697.5 365.5 L698.5 368.9 L699.5 372.3 L700.3 375.1 L700.5 375.6 L700.7 376.2 L701.5 378.3 L702.5 381.0 L703.5 383.6 L704.5 386.3 L705.2 388.3 L705.5 388.9 L705.6 389.1 L706.5 390.9 L707.5 393.0 L708.5 395.1 L709.5 397.1 L710.2 398.5 L710.5 399.1 L710.6 399.1 L711.5 400.7 L712.5 402.3 L713.5 404.0 L714.5 405.6 L715.1 406.5 L715.5 407.1 L715.5 407.1 L716.5 408.5 L717.5 409.8 L718.5 411.2 L719.5 412.5 L720.0 413.2 L720.4 413.6 L720.5 413.7 L721.5 414.8 L722.5 415.9 L723.5 417.0 L724.5 418.0 L724.9 418.5 L725.3 418.8 L725.5 419.0 L726.5 419.9 L727.5 420.9 L728.5 421.8 L729.5 422.7 L729.8 423.0 L730.2 423.3 L730.5 423.5 L731.5 424.4 L732.5 425.2 L733.5 426.0 L734.5 426.8 L734.7 427.0 L735.1 427.3 L735.5 427.5 L736.5 428.3 L737.5 429.0 L738.5 429.7 L739.5 430.4 L739.6 430.5 L740.0 430.8 L740.5 431.1 L741.5 431.7 L742.5 432.4 L743.5 433.0 L744.5 433.7 L744.6 433.7 L745.0 433.9 L745.5 434.2 L746.5 434.8 L746.5 436.4 L745.5 435.9 L745.0 435.5 L744.6 435.3 L744.5 435.3 L743.5 434.6 L742.5 434.0 L741.5 433.3 L740.5 432.7 L740.0 432.4 L739.6 432.1 L739.5 432.0 L738.5 431.3 L737.5 430.6 L736.5 429.9 L735.5 429.2 L735.1 428.9 L734.7 428.6 L734.5 428.4 L733.5 427.6 L732.5 426.8 L731.5 426.0 L730.5 425.2 L730.2 424.9 L729.8 424.6 L729.5 424.3 L728.5 423.4 L727.5 422.4 L726.5 421.5 L725.5 420.6 L725.3 420.4 L724.9 420.0 L724.5 419.5 L723.5 418.5 L722.5 417.4 L721.5 416.3 L720.5 415.2 L720.4 415.1 L720.0 414.6 L719.5 414.0 L718.5 412.7 L717.5 411.4 L716.5 410.2 L715.5 408.9 L715.5 408.8 L715.1 408.2 L714.5 407.3 L713.5 405.8 L712.5 404.2 L711.5 402.7 L710.6 401.2 L710.5 401.1 L710.2 400.4 L709.5 399.2 L708.5 397.2 L707.5 395.3 L706.5 393.4 L705.6 391.7 L705.5 391.4 L705.2 390.7 L704.5 388.9 L703.5 386.5 L702.5 384.0 L701.5 381.6 L700.7 379.7 L700.5 379.0 L700.3 378.4 L699.5 375.8 L698.5 372.7 L697.5 369.5 L696.5 366.3 L695.8 364.2 L695.5 362.9 L695.4 362.5 L694.5 358.7 L693.5 354.5 L692.5 350.4 L691.5 346.2 L690.9 343.7 L690.5 341.6 L690.5 341.5 L689.5 336.1 L688.5 330.6 L687.5 325.1 L686.5 319.7 L686.0 316.8 L685.6 314.0 L685.5 313.4 L684.5 306.4 L683.5 299.3 L682.5 292.3 L681.5 285.3 L681.1 282.2 L680.7 278.9 L680.5 277.5 L679.5 269.1 L678.5 260.8 L677.5 252.4 L676.5 244.1 L676.1 241.1 L675.8 237.9 L675.5 235.9 L674.5 227.7 L673.5 219.6 L672.5 211.4 L671.5 203.3 L671.2 201.1 L670.8 199.3 L670.5 197.8 L669.5 193.2 L668.5 188.5 L667.5 183.9 L666.5 179.3 L666.3 178.5 L665.9 178.8 L665.5 179.1 L664.5 179.9 L663.5 180.6 L662.5 181.4 L661.5 182.1 L661.4 182.2 L661.0 185.3 L660.5 189.1 L659.5 196.7 L658.5 204.4 L657.5 212.0 L656.5 219.6 L656.5 219.7 L656.1 223.2 L655.5 228.3 L654.5 236.9 L653.5 245.6 L652.5 254.3 L651.6 262.3 L651.5 262.9 L651.2 265.3 L650.5 270.4 L649.5 277.9 L648.5 285.3 L647.5 292.8 L646.7 299.1 L646.5 300.0 L646.3 301.4 L645.5 305.7 L644.5 311.4 L643.5 317.0 L642.5 322.7 L641.7 327.0 L641.5 327.9 L641.3 328.6 L640.5 332.0 L639.5 336.1 L638.5 340.1 L637.5 344.2 L636.8 346.9 L636.5 347.8 L636.4 348.0 L635.5 350.7 L634.5 353.6 L633.5 356.5 L632.5 359.3 L631.9 361.0 L631.5 361.8 L631.5 361.9 L630.5 363.9 L629.5 365.9 L628.5 367.9 L627.5 370.0 L627.0 371.0 L626.6 371.6 L626.5 371.7 L625.5 373.2 L624.5 374.6 L623.5 376.0 L622.5 377.5 L622.1 378.1 L621.7 378.5 L621.5 378.7 L620.5 379.7 L619.5 380.7 L618.5 381.8 L617.5 382.8 L617.2 383.1 L616.8 383.4 L616.5 383.6 L615.5 384.3 L614.5 385.1 L613.5 385.8 L612.5 386.5 L612.3 386.7 L611.9 386.9 L611.5 387.1 L610.5 387.6 L609.5 388.1 L608.5 388.6 L607.5 389.1 L607.3 389.2 L606.9 389.3 L606.5 389.5 L605.5 389.8 L604.5 390.2 L603.5 390.5 L602.5 390.9 L602.4 390.9 L602.0 391.0 L601.5 391.1 L600.5 391.3 L599.5 391.6 L598.5 391.8 L597.5 392.0 L597.5 392.0 L597.1 392.1 L596.5 392.1 L595.5 392.3 L594.5 392.4 L593.5 392.5 L592.6 392.6 L592.5 392.6 L592.2 392.7 L591.5 392.7 L590.5 392.8 L589.5 392.8 L588.5 392.9 L587.7 392.9 L587.5 392.9 L587.3 392.9 L586.5 392.9 L585.5 392.9 L584.5 392.9 L583.5 392.9 L582.8 392.9 L582.5 392.9 L582.4 392.9 L581.5 392.8 L580.5 392.8 L579.5 392.7 L578.5 392.7 L577.8 392.6 L577.5 392.6 L577.5 392.6 L576.5 392.5 L575.5 392.4 L574.5 392.3 L573.5 392.2 L572.9 392.1 L572.5 392.1 L572.5 392.1 L571.5 392.0 L570.5 391.8 L569.5 391.7 L568.5 391.6 L568.0 391.5 L567.6 391.4 L567.5 391.4 L566.5 391.3 L565.5 391.1 L564.5 390.9 L563.5 390.8 L563.1 390.7 L562.7 390.6 L562.5 390.6 L561.5 390.4 L560.5 390.2 L559.5 390.0 L558.5 389.9 L558.2 389.8 L557.8 389.7 L557.5 389.7 L556.5 389.4 L555.5 389.2 L554.5 389.0 L553.5 388.8 L553.3 388.8 L552.9 388.7 L552.5 388.6 L551.5 388.3 L550.5 388.1 L549.5 387.9 L548.5 387.6 L548.4 387.6 L548.0 387.5 L547.5 387.4 L546.5 387.1 L545.5 386.9 L544.5 386.6 L543.5 386.3 L543.4 386.3 L543.0 386.2 L542.5 386.1 L541.5 385.8 L540.5 385.5 L539.5 385.2 L538.5 384.9 L538.5 384.9 L538.1 384.8 L537.5 384.6 L536.5 384.3 L535.5 384.0 L534.5 383.7 L533.6 383.4 L533.5 383.4 L533.2 383.3 L532.5 383.0 L531.5 382.7 L530.5 382.4 L529.5 382.0 L528.7 381.8 L528.5 381.7 L528.3 381.6 L527.5 381.3 L526.5 381.0 L525.5 380.6 L524.5 380.2 L523.8 380.0 L523.5 379.9 L523.4 379.8 L522.5 379.5 L521.5 379.1 L520.5 378.7 L519.5 378.3 L518.9 378.0 L518.5 377.9 L518.5 377.9 L517.5 377.4 L516.5 377.0 L515.5 376.6 L514.5 376.1 L514.0 375.9 L513.6 375.7 L513.5 375.7 L512.5 375.2 L511.5 374.7 L510.5 374.2 L509.5 373.7 L509.0 373.5 L508.6 373.3 L508.5 373.2 L507.5 372.7 L506.5 372.1 L505.5 371.6 L504.5 371.0 L504.1 370.8 L503.7 370.6 L503.5 370.4 L502.5 369.8 L501.5 369.2 L500.5 368.6 L499.5 368.0 L499.2 367.8 L498.8 367.5 L498.5 367.3 L497.5 366.6 L496.5 365.9 L495.5 365.2 L494.5 364.5 L494.3 364.3 L493.9 364.0 L493.5 363.7 L492.5 362.9 L491.5 362.0 L490.5 361.2 L489.5 360.4 L489.4 360.3 L489.0 359.9 L488.5 359.4 L487.5 358.5 L486.5 357.5 L485.5 356.5 L484.5 355.5 L484.5 355.5 L484.1 355.0 L483.5 354.4 L482.5 353.2 L481.5 352.0 L480.5 350.8 L479.5 349.7 L479.5 349.6 L479.1 349.1 L478.5 348.2 L477.5 346.7 L476.5 345.2 L475.5 343.8 L474.6 342.5 L474.5 342.3 L474.2 341.8 L473.5 340.4 L472.5 338.6 L471.5 336.7 L470.5 334.9 L469.7 333.4 L469.5 332.9 L469.3 332.5 L468.5 330.5 L467.5 328.2 L466.5 325.8 L465.5 323.4 L464.8 321.7 L464.5 320.8 L464.4 320.5 L463.5 317.6 L462.5 314.5 L461.5 311.3 L460.5 308.2 L459.9 306.2 L459.5 304.6 L459.5 304.5 L458.5 300.4 L457.5 296.1 L456.5 291.9 L455.5 287.6 L455.0 285.4 L454.6 283.1 L454.5 282.7 L453.5 277.0 L452.5 271.3 L451.5 265.6 L450.5 259.9 L450.1 257.4 L449.7 254.4 L449.5 253.2 L448.5 245.7 L447.5 238.3 L446.5 230.8 L445.5 223.3 L445.1 220.7 L444.7 217.1 L444.5 214.9 L443.5 206.0 L442.5 197.2 L441.5 188.3 L440.5 179.4 L440.2 177.0 L439.8 173.7 L439.5 171.0 L438.5 162.8 L437.5 154.6 L436.5 146.4 L435.5 138.2 L435.3 136.6 L434.9 135.2 L434.5 133.7 L433.5 130.0 L432.5 126.4 L431.5 122.7 L430.5 119.0 L430.4 118.7 L430.0 120.0 L429.5 121.6 L428.5 124.8 L427.5 128.0 L426.5 131.2 L425.5 134.4 L425.5 134.5 L425.1 137.6 L424.5 142.1 L423.5 149.9 L422.5 157.7 L421.5 165.4 L420.6 172.7 L420.5 173.3 L420.2 176.0 L419.5 181.7 L418.5 190.1 L417.5 198.6 L416.5 207.0 L415.7 214.1 L415.5 215.2 L415.3 217.0 L414.5 222.3 L413.5 229.3 L412.5 236.3 L411.5 243.4 L410.7 248.7 L410.5 250.0 L410.3 250.8 L409.5 255.2 L408.5 260.5 L407.5 265.8 L406.5 271.0 L405.8 274.6 L405.5 275.8 L405.4 276.1 L404.5 279.6 L403.5 283.4 L402.5 287.2 L401.5 291.0 L400.9 293.2 L400.5 294.3 L400.5 294.3 L399.5 297.1 L398.5 299.8 L397.5 302.5 L396.5 305.2 L396.0 306.6 L395.6 307.3 L395.5 307.5 L394.5 309.5 L393.5 311.4 L392.5 313.4 L391.5 315.3 L391.1 316.1 L390.7 316.7 L390.5 317.0 L389.5 318.4 L388.5 319.8 L387.5 321.2 L386.5 322.6 L386.2 323.1 L385.8 323.5 L385.5 323.7 L384.5 324.8 L383.5 325.8 L382.5 326.8 L381.5 327.8 L381.2 328.1 L380.9 328.4 L380.5 328.7 L379.5 329.4 L378.5 330.1 L377.5 330.9 L376.5 331.6 L376.3 331.8 L375.9 332.0 L375.5 332.2 L374.5 332.8 L373.5 333.3 L372.5 333.9 L371.5 334.4 L371.4 334.4 L371.0 334.6 L370.5 334.8 L369.5 335.2 L368.5 335.6 L367.5 336.0 L366.5 336.4 L366.5 336.4 L366.1 336.5 L365.5 336.7 L364.5 336.9 L363.5 337.2 L362.5 337.5 L361.6 337.7 L361.5 337.8 L361.2 337.8 L360.5 337.9 L359.5 338.1 L358.5 338.3 L357.5 338.5 L356.7 338.7 L356.5 338.7 L356.3 338.7 L355.5 338.8 L354.5 338.9 L353.5 339.1 L352.5 339.2 L351.8 339.3 L351.5 339.3 L351.4 339.3 L350.5 339.4 L349.5 339.4 Z" fill="#f6b6c3"/>
<path d="M259.5 332.9 L260.0 333.0 L270.0 335.1 L280.0 337.3 L290.0 339.4 L300.0 341.6 L310.0 343.8 L320.0 346.0 L330.0 348.2 L340.0 350.4 L350.0 352.6 L360.0 354.8 L370.0 357.1 L380.0 359.3 L390.0 361.6 L400.0 363.9 L410.0 366.2 L420.0 368.5 L430.0 370.9 L440.0 373.2 L450.0 375.5 L460.0 377.9 L470.0 380.3 L480.0 382.7 L490.0 385.1 L500.0 387.5 L510.0 389.9 L520.0 392.4 L530.0 394.8 L540.0 397.3 L550.0 399.7 L560.0 402.2 L570.0 404.7 L580.0 407.3 L590.0 409.8 L600.0 412.3 L610.0 414.9 L620.0 417.4 L630.0 420.0 L640.0 422.6 L650.0 425.2 L660.0 427.8 L670.0 430.4 L680.0 433.1 L690.0 435.7 L700.0 438.4 L710.0 441.1 L720.0 443.7 L730.0 446.4 L740.0 449.2 L750.0 451.9 L760.0 454.6 L770.0 457.4 L780.0 460.1 L790.0 462.9 L800.0 465.7 L810.0 468.5 L820.0 471.3 L830.0 474.1 L840.0 477.0" fill="none" stroke="#e9a91f" stroke-width="2.2"/>
<path d="M259.5 326.3 L262.9 326.7 L267.8 327.4 L272.7 328.1 L277.6 328.8 L282.6 330.6 L287.5 331.5 L292.4 331.8 L297.3 333.0 L302.2 334.3 L307.1 335.4 L312.0 335.6 L317.0 335.7 L321.9 336.5 L326.8 337.2 L331.7 337.6 L336.6 337.1 L341.5 335.7 L346.4 335.4 L351.4 334.5 L356.3 333.3 L361.2 332.3 L366.1 330.9 L371.0 329.1 L375.9 326.6 L380.9 323.2 L385.8 318.4 L390.7 311.7 L395.6 302.4 L400.5 288.5 L405.4 269.0 L410.3 241.6 L415.3 205.3 L420.2 163.2 L425.1 127.1 L430.0 112.7 L434.9 133.4 L439.8 171.5 L444.7 212.9 L449.7 246.8 L454.6 273.9 L459.5 296.6 L464.4 313.6 L469.3 326.4 L474.2 336.3 L479.1 344.6 L484.1 351.1 L489.0 356.4 L493.9 360.9 L498.8 364.8 L503.7 368.2 L508.6 371.4 L513.6 374.3 L518.5 376.9 L523.4 379.4 L528.3 381.8 L533.2 384.2 L538.1 386.5 L543.0 388.5 L548.0 390.3 L552.9 392.0 L557.8 393.5 L562.7 394.7 L567.6 395.7 L572.5 396.5 L577.5 396.9 L582.4 397.0 L587.3 396.5 L592.2 395.7 L597.1 394.4 L602.0 392.8 L606.9 390.7 L611.9 387.9 L616.8 384.4 L621.7 379.3 L626.6 372.3 L631.5 362.5 L636.4 348.7 L641.3 329.3 L646.3 302.1 L651.2 265.8 L656.1 223.1 L661.0 181.2 L665.9 180.6 L670.8 203.8 L675.8 238.6 L680.7 273.0 L685.6 307.6 L690.5 336.5 L695.4 358.4 L700.3 375.1 L705.2 388.3 L710.2 398.5 L715.1 406.5 L720.0 413.2 L724.9 418.5 L729.8 423.0 L734.7 427.0 L739.6 430.5 L744.6 433.7 L749.5 436.5 L754.4 439.0 L759.3 441.4 L764.2 443.3 L769.1 445.0 L774.0 446.6 L779.0 448.1 L783.9 449.0 L788.8 449.7 L793.7 450.4 L798.6 451.1 L803.5 451.9 L808.5 452.8 L813.4 453.7 L818.3 454.5 L823.2 455.7 L828.1 457.0 L833.0 458.3 L837.9 459.6 L840.0 460.1" fill="none" stroke="#141414" stroke-width="2.1" stroke-linejoin="round"/>
<path d="M259.5 329.6 L263.3 330.2 L268.2 331.1 L273.1 331.9 L278.0 332.7 L282.9 333.5 L287.9 334.3 L292.8 335.1 L297.7 335.8 L302.6 336.5 L307.5 337.1 L312.4 337.7 L317.4 338.3 L322.3 338.8 L327.2 339.2 L332.1 339.5 L337.0 339.7 L341.9 339.7 L346.8 339.6 L351.8 339.3 L356.7 338.7 L361.6 337.7 L366.5 336.4 L371.4 334.4 L376.3 331.8 L381.2 328.1 L386.2 323.1 L391.1 316.1 L396.0 306.6 L400.9 293.2 L405.8 274.6 L410.7 248.7 L415.7 214.1 L420.6 172.7 L425.5 134.5 L430.4 118.7 L435.3 136.6 L440.2 177.0 L445.1 220.7 L450.1 257.4 L455.0 285.4 L459.9 306.2 L464.8 321.7 L469.7 333.4 L474.6 342.5 L479.5 349.7 L484.5 355.5 L489.4 360.3 L494.3 364.3 L499.2 367.8 L504.1 370.8 L509.0 373.5 L514.0 375.9 L518.9 378.0 L523.8 380.0 L528.7 381.8 L533.6 383.4 L538.5 384.9 L543.4 386.3 L548.4 387.6 L553.3 388.8 L558.2 389.8 L563.1 390.7 L568.0 391.5 L572.9 392.1 L577.8 392.6 L582.8 392.9 L587.7 392.9 L592.6 392.6 L597.5 392.0 L602.4 390.9 L607.3 389.2 L612.3 386.7 L617.2 383.1 L622.1 378.1 L627.0 371.0 L631.9 361.0 L636.8 346.9 L641.7 327.0 L646.7 299.1 L651.6 262.3 L656.5 219.7 L661.4 182.2 L666.3 178.5 L671.2 201.1 L676.1 241.1 L681.1 282.2 L686.0 316.8 L690.9 343.7 L695.8 364.2 L700.7 379.7 L705.6 391.7 L710.6 401.2 L715.5 408.8 L720.4 415.1 L725.3 420.4 L730.2 424.9 L735.1 428.9 L740.0 432.4 L745.0 435.5 L749.9 438.4 L754.8 441.1 L759.7 443.5 L764.6 445.9 L769.5 448.1 L774.5 450.2 L779.4 452.2 L784.3 454.1 L789.2 456.0 L794.1 457.8 L799.0 459.6 L803.9 461.3 L808.9 463.1 L813.8 464.7 L818.7 466.4 L823.6 468.0 L828.5 469.7 L833.4 471.3 L838.3 472.9 L840.0 473.4" fill="none" stroke="#7a2a92" stroke-width="2.2" stroke-linejoin="round"/>
<line x1="349.5" y1="336.5" x2="349.5" y2="477" stroke="#1a1a1a" stroke-width="1.3" stroke-dasharray="1.5 1.1"/>
<line x1="747" y1="435.8" x2="747" y2="477" stroke="#1a1a1a" stroke-width="1.3" stroke-dasharray="1.5 1.1"/>
<path d="M259.6 112 V477.3 H840" fill="none" stroke="#2e2e2e" stroke-width="1.8"/>
<line x1="259.6" y1="156" x2="266.5" y2="156" stroke="#2e2e2e" stroke-width="1.5"/>
<text x="249.5" y="165.8" text-anchor="end" font-size="23" fill="#2e2e2e">380</text>
<line x1="259.6" y1="214" x2="266.5" y2="214" stroke="#2e2e2e" stroke-width="1.5"/>
<text x="249.5" y="223.8" text-anchor="end" font-size="23" fill="#2e2e2e">360</text>
<line x1="259.6" y1="272" x2="266.5" y2="272" stroke="#2e2e2e" stroke-width="1.5"/>
<text x="249.5" y="281.8" text-anchor="end" font-size="23" fill="#2e2e2e">340</text>
<line x1="259.6" y1="330" x2="266.5" y2="330" stroke="#2e2e2e" stroke-width="1.5"/>
<text x="249.5" y="339.8" text-anchor="end" font-size="23" fill="#2e2e2e">320</text>
<line x1="259.6" y1="388" x2="266.5" y2="388" stroke="#2e2e2e" stroke-width="1.5"/>
<text x="249.5" y="397.8" text-anchor="end" font-size="23" fill="#2e2e2e">300</text>
<line x1="259.6" y1="446" x2="266.5" y2="446" stroke="#2e2e2e" stroke-width="1.5"/>
<text x="249.5" y="455.8" text-anchor="end" font-size="23" fill="#2e2e2e">280</text>
<line x1="352" y1="470.5" x2="352" y2="477.3" stroke="#2e2e2e" stroke-width="1.5"/>
<text x="352.8" y="511.3" text-anchor="middle" font-size="23" fill="#2e2e2e">1.49</text>
<line x1="450" y1="470.5" x2="450" y2="477.3" stroke="#2e2e2e" stroke-width="1.5"/>
<text x="450.8" y="511.3" text-anchor="middle" font-size="23" fill="#2e2e2e">1.485</text>
<line x1="548" y1="470.5" x2="548" y2="477.3" stroke="#2e2e2e" stroke-width="1.5"/>
<text x="548.8" y="511.3" text-anchor="middle" font-size="23" fill="#2e2e2e">1.48</text>
<line x1="646" y1="470.5" x2="646" y2="477.3" stroke="#2e2e2e" stroke-width="1.5"/>
<text x="646.8" y="511.3" text-anchor="middle" font-size="23" fill="#2e2e2e">1.475</text>
<line x1="744" y1="470.5" x2="744" y2="477.3" stroke="#2e2e2e" stroke-width="1.5"/>
<text x="744.8" y="511.3" text-anchor="middle" font-size="23" fill="#2e2e2e">1.47</text>
<text transform="translate(521.25 545.50) scale(1.0406 1)" font-size="25.5" fill="#2e2e2e">PPM</text>
<text x="549.3" y="103.8" text-anchor="middle" font-size="31" font-weight="bold" fill="#0a0a0a">Alanine</text>
<rect x="845" y="293.6" width="13" height="3.6" fill="#f8c0b8"/>
<rect x="845" y="292" width="13" height="2.2" fill="#ee1c24"/><rect x="845" y="296.5" width="13" height="2.2" fill="#ee1c24"/><rect x="850.6" y="293" width="1.6" height="4" fill="#ee1c24"/>
</g>
</g>
<g id="row">
<line x1="380.3" y1="555" x2="380.3" y2="590" stroke="#2b2b2b" stroke-width="1.45"/>
<line x1="486" y1="555" x2="486" y2="590" stroke="#2b2b2b" stroke-width="1.45"/>
<line x1="492" y1="555" x2="492" y2="590" stroke="#2b2b2b" stroke-width="1.45"/>
<line x1="586.3" y1="555" x2="586.3" y2="590" stroke="#2b2b2b" stroke-width="1.45"/>
<line x1="677" y1="555" x2="677" y2="590" stroke="#2b2b2b" stroke-width="1.45"/>
<line x1="778" y1="555" x2="778" y2="590" stroke="#2b2b2b" stroke-width="1.45"/>
<line x1="869" y1="555" x2="869" y2="590" stroke="#2b2b2b" stroke-width="1.45"/>
<text transform="translate(407.00 580.60) scale(0.9800 1)" font-size="27" stroke="#fff" stroke-width="0.25" paint-order="fill stroke">0.35</text>
<text transform="translate(512.50 580.60) scale(0.9800 1)" font-size="27" stroke="#fff" stroke-width="0.25" paint-order="fill stroke">0.02</text>
<text transform="translate(598.50 580.60) scale(0.9546 1)" font-size="27" stroke="#fff" stroke-width="0.25" paint-order="fill stroke">0.351</text>
<text transform="translate(693.50 580.60) scale(0.9545 1)" font-size="27" stroke="#fff" stroke-width="0.25" paint-order="fill stroke">100</text>
<circle cx="754.5" cy="573" r="10.6" fill="#22a84a" stroke="#1c6b33" stroke-width="1"/>
<text transform="translate(790.00 580.60) scale(0.9842 1)" font-size="27" stroke="#fff" stroke-width="0.25" paint-order="fill stroke">0.010</text>
<text transform="translate(895.00 580.60) scale(1.0225 1)" font-size="27" stroke="#fff" stroke-width="0.25" paint-order="fill stroke">0.29 - 0.64</text>
</g>
<rect x="0" y="590" width="1280" height="10" fill="#fff"/><line x1="14" y1="589.5" x2="1270" y2="589.5" stroke="#a9a9a9" stroke-width="1"/>
</svg>
</body></html>
